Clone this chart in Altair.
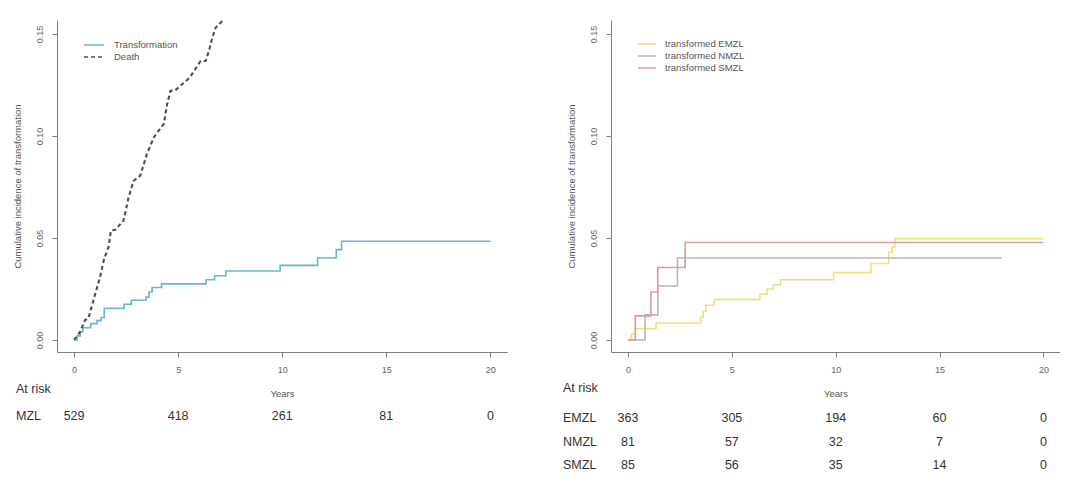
import altair as alt
import pandas as pd

FONT = "Liberation Sans"

year_ticks = [0, 5, 10, 15, 20]
y_ticks = [0.0, 0.05, 0.10, 0.15]

# Left panel: MZL overall
trans_t = [0, 0.15, 0.3, 0.42, 0.8, 1.1, 1.3, 1.45, 2.4, 2.75, 3.45, 3.6, 3.75, 4.2,
           6.35, 6.75, 7.3, 9.9, 11.7, 12.6, 12.85, 20]
trans_v = [0, 0.002, 0.004, 0.006, 0.008, 0.0095, 0.011, 0.0155, 0.0175, 0.0195, 0.021,
           0.0235, 0.0257, 0.0275, 0.0295, 0.0315, 0.0338, 0.0366, 0.0402, 0.0443, 0.0484, 0.0484]

death_t = [0, 0.29, 0.53, 0.69, 0.93, 1.25, 1.45, 1.66, 1.77, 1.98, 2.38, 2.62, 2.86, 3.18,
           3.5, 3.83, 4.12, 4.31, 4.47, 4.63, 4.87, 5.11, 5.56, 5.76, 6.08, 6.32, 6.48, 6.64,
           6.8, 7.12, 7.4]
death_v = [0, 0.004, 0.0098, 0.0106, 0.0195, 0.031, 0.04, 0.0456, 0.0537, 0.054, 0.0586,
           0.07, 0.078, 0.0806, 0.0912, 0.0993, 0.1034, 0.1059, 0.1156, 0.1221, 0.1225,
           0.1246, 0.1287, 0.1319, 0.1368, 0.1368, 0.1417, 0.1482, 0.1531, 0.1564, 0.16]

# Right panel: subtypes
emzl_t = [0, 0.15, 0.35, 1.35, 3.5, 3.62, 3.75, 4.15, 6.35, 6.7, 7.0, 7.35, 9.9, 11.7,
          12.55, 12.72, 12.85, 20]
emzl_v = [0, 0.0028, 0.0055, 0.0083, 0.011, 0.014, 0.017, 0.0198, 0.0225, 0.025, 0.027,
          0.0295, 0.033, 0.0375, 0.043, 0.0455, 0.0497, 0.0497]
nmzl_t = [0, 0.82, 1.44, 2.38, 18]
nmzl_v = [0, 0.0123, 0.0265, 0.0402, 0.0402]
smzl_t = [0, 0.35, 1.1, 1.43, 2.75, 20]
smzl_v = [0, 0.0118, 0.0235, 0.0355, 0.0478, 0.0478]

# At-risk tables
risk_mzl = [529, 418, 261, 81, 0]
risk_emzl = [363, 305, 194, 60, 0]
risk_nmzl = [81, 57, 32, 7, 0]
risk_smzl = [85, 56, 35, 14, 0]

left_names = ["Transformation", "Death"]
right_names = ["transformed EMZL", "transformed NMZL", "transformed SMZL"]

C_TRANS = "#66b6cc"
C_DEATH = "#564c45"
C_EMZL = "#f6df7a"
C_NMZL = "#b6b6be"
C_SMZL = "#de9a9a"
TXT = "#333333"

x_scale = alt.Scale(domain=[-0.82, 20.8], nice=False, zero=False)
y_scale = alt.Scale(domain=[-0.0059, 0.1569], nice=False, zero=False)


def x_enc():
    return alt.X("t:Q", scale=x_scale,
                 axis=alt.Axis(values=year_ticks, format="d", title="Years",
                               tickSize=5, labelPadding=8, titlePadding=14))


def y_enc():
    return alt.Y("v:Q", scale=y_scale,
                 axis=alt.Axis(values=y_ticks, format=".2f",
                               title="Cumulative incidence of transformation",
                               labelAngle=270, tickSize=5, labelPadding=8, titlePadding=13))


def legend(x, y, size, offset):
    return alt.Legend(orient="none", legendX=x, legendY=y, title=None,
                      symbolType="stroke", symbolSize=size, symbolStrokeWidth=1.5,
                      labelOffset=offset, clipHeight=10, rowPadding=2, padding=0,
                      labelFont=FONT, labelFontSize=9.5, labelColor="#555555")


# ---- left panel ----
df_left = pd.concat([
    pd.DataFrame({"t": trans_t, "v": trans_v, "s": left_names[0]}),
    pd.DataFrame({"t": death_t, "v": death_v, "s": left_names[1]}),
])
lg_left = legend(26, 20, 400, 9)
color_l = alt.Color("s:N", scale=alt.Scale(domain=left_names, range=[C_TRANS, C_DEATH]), legend=lg_left)
dash_l = alt.StrokeDash("s:N", scale=alt.Scale(domain=left_names, range=[[1, 0], [4, 3]]), legend=lg_left)

base_l = alt.Chart(df_left)
trans_line = base_l.transform_filter(alt.datum.s == left_names[0]).mark_line(
    interpolate="step-after", strokeWidth=1.6, clip=True
).encode(x=x_enc(), y=y_enc(), color=color_l, strokeDash=dash_l)
death_line = base_l.transform_filter(alt.datum.s == left_names[1]).mark_line(
    interpolate="linear", strokeWidth=2.1, clip=True
).encode(x=x_enc(), y=y_enc(), color=color_l, strokeDash=dash_l)

df_risk_l = pd.DataFrame({"t": year_ticks, "n": risk_mzl})
risk_l = alt.Chart(df_risk_l).mark_text(font=FONT, fontSize=12.5, color=TXT, baseline="middle").encode(
    x=alt.X("t:Q", scale=x_scale), y=alt.value(396), text="n:Q")
lab_l = alt.Chart(pd.DataFrame({"lab": ["At risk"]})).mark_text(
    font=FONT, fontSize=12.5, color=TXT, align="left", baseline="middle").encode(
    x=alt.value(-41), y=alt.value(369), text="lab:N")
lab_l2 = alt.Chart(pd.DataFrame({"lab": ["MZL"]})).mark_text(
    font=FONT, fontSize=12.5, color=TXT, align="left", baseline="middle").encode(
    x=alt.value(-41), y=alt.value(396), text="lab:N")

left = alt.layer(trans_line, death_line, risk_l, lab_l, lab_l2).properties(width=450, height=332)

# ---- right panel ----
df_right = pd.concat([
    pd.DataFrame({"t": emzl_t, "v": emzl_v, "g": right_names[0]}),
    pd.DataFrame({"t": nmzl_t, "v": nmzl_v, "g": right_names[1]}),
    pd.DataFrame({"t": smzl_t, "v": smzl_v, "g": right_names[2]}),
])
lg_right = legend(26, 19, 324, 8)
lines_r = alt.Chart(df_right).mark_line(interpolate="step-after", strokeWidth=1.6, clip=True).encode(
    x=x_enc(), y=y_enc(),
    color=alt.Color("g:N", scale=alt.Scale(domain=right_names, range=[C_EMZL, C_NMZL, C_SMZL]),
                    legend=lg_right),
    detail="g:N",
)

rows = [("EMZL", risk_emzl, 398), ("NMZL", risk_nmzl, 422), ("SMZL", risk_smzl, 445)]
right_layers = [lines_r]
for name, vals, ypix in rows:
    right_layers.append(
        alt.Chart(pd.DataFrame({"t": year_ticks, "n": vals})).mark_text(
            font=FONT, fontSize=12.5, color=TXT, baseline="middle").encode(
            x=alt.X("t:Q", scale=x_scale), y=alt.value(ypix), text="n:Q"))
    right_layers.append(
        alt.Chart(pd.DataFrame({"lab": [name]})).mark_text(
            font=FONT, fontSize=12.5, color=TXT, align="left", baseline="middle").encode(
            x=alt.value(-48), y=alt.value(ypix), text="lab:N"))
right_layers.append(
    alt.Chart(pd.DataFrame({"lab": ["At risk"]})).mark_text(
        font=FONT, fontSize=12.5, color=TXT, align="left", baseline="middle").encode(
        x=alt.value(-48), y=alt.value(368), text="lab:N"))

right = alt.layer(*right_layers).properties(width=449, height=332)

chart = alt.hconcat(left, right, spacing=56).resolve_scale(
    color="independent", strokeDash="independent"
).properties(
    padding={"left": 12, "top": 20, "right": 0, "bottom": 0},
    background="white",
).configure_view(stroke=None).configure_axis(
    grid=False, domainColor="#7f7f7f", tickColor="#7f7f7f", labelColor="#666666",
    titleColor="#555555", labelFont=FONT, titleFont=FONT, labelFontSize=9,
    titleFontSize=9.5, titleFontWeight="normal", domainWidth=1, tickWidth=1,
)

chart.save("out.html", embed_options={"renderer": "svg", "actions": False})
